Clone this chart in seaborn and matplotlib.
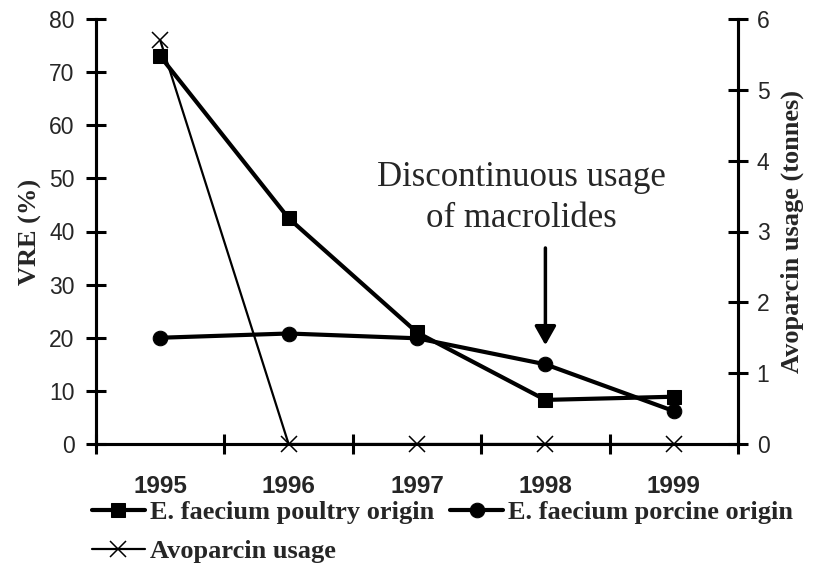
import numpy as np
import matplotlib
matplotlib.use("Agg")
import matplotlib.pyplot as plt
import seaborn as sns

YEARS = ['1995', '1996', '1997', '1998', '1999']
POULTRY_VRE = [73, 42.5, 21, 8.3, 8.9]
PORCINE_VRE = [20, 20.8, 19.9, 15, 6.2]
AVOPARCIN_TONNES = [5.7, 0, 0, 0, 0]
ARROW_YEAR = '1998'
NOTE = 'Discontinuous usage\nof macrolides'

sns.set_style('ticks')
plt.rcParams['font.family'] = ['Liberation Sans', 'DejaVu Sans']

pos = np.arange(len(YEARS))

fig = plt.figure(figsize=(8.19, 5.65), dpi=100)
ax = fig.add_axes([96 / 819, (565 - 444) / 565, (738 - 96) / 819, (444 - 19) / 565])
ax2 = ax.twinx()

sns.lineplot(x=pos, y=POULTRY_VRE, ax=ax, color='black', lw=3, marker='s', markersize=10,
             markeredgecolor='black', label='E. faecium poultry origin', legend=False)
sns.lineplot(x=pos, y=PORCINE_VRE, ax=ax, color='black', lw=3, marker='o', markersize=10.5,
             markeredgecolor='black', label='E. faecium porcine origin', legend=False)
sns.lineplot(x=pos, y=AVOPARCIN_TONNES, ax=ax2, color='black', lw=1.6, marker='x', markersize=11,
             markeredgewidth=1.1, markeredgecolor='black', label='Avoparcin usage', legend=False,
             clip_on=False, zorder=5)

ax.set_xlim(-0.5, len(YEARS) - 0.5)
ax.set_ylim(0, 80)
ax2.set_ylim(0, 6)
ax.set_yticks(range(0, 81, 10))
ax2.set_yticks(range(0, 7))

ax.set_xticks(pos)
ax.set_xticklabels(YEARS, fontsize=17.5, fontweight='bold')
ax.set_xticks(np.arange(-0.5, len(YEARS), 1.0), minor=True)
ax.tick_params(axis='x', which='major', length=0, pad=22)
ax.tick_params(axis='x', which='minor', direction='inout', length=15, width=2.2, color='black')
ax.tick_params(axis='y', direction='inout', length=15, width=2.2, labelsize=16.5, pad=8, color='black')
ax2.tick_params(axis='y', direction='inout', length=15, width=2.2, labelsize=16.5, pad=6, color='black')

for a in (ax, ax2):
    a.spines['top'].set_visible(False)
    for s in ('left', 'right', 'bottom'):
        a.spines[s].set_linewidth(2.2)
        a.spines[s].set_color('black')
    a.set_xlabel('')

ax.set_ylabel('VRE (%)', family='Liberation Serif', fontsize=19, fontweight='bold', labelpad=5)
ax2.set_ylabel('Avoparcin usage (tonnes)', family='Liberation Serif', fontsize=19,
               fontweight='bold', labelpad=8)

ai = YEARS.index(ARROW_YEAR)
ax.annotate('', xy=(ai, 18.6), xytext=(ai, 36.9),
            arrowprops=dict(arrowstyle='-|>,head_width=0.65,head_length=1.15', color='black',
                            lw=2.5, shrinkA=0, shrinkB=0))
ax.text(ai - 0.19, 46.3, NOTE, family='Liberation Serif', fontsize=25, ha='center', va='center',
        linespacing=1.3)

h1, l1 = ax.get_legend_handles_labels()
h2, l2 = ax2.get_legend_handles_labels()
handles = [h1[0], h2[0], h1[1]]
labels = [l1[0], l2[0], l1[1]]
fig.legend(handles, labels, ncol=2, loc='upper left', bbox_to_anchor=(92 / 819, 1 - 501 / 565),
           frameon=False, prop={'family': 'Liberation Serif', 'weight': 'bold', 'size': 19},
           handlelength=2.0, handletextpad=0.2, columnspacing=0.6, labelspacing=0.58,
           borderaxespad=0, borderpad=0)

fig.savefig('out.png', dpi=100)
